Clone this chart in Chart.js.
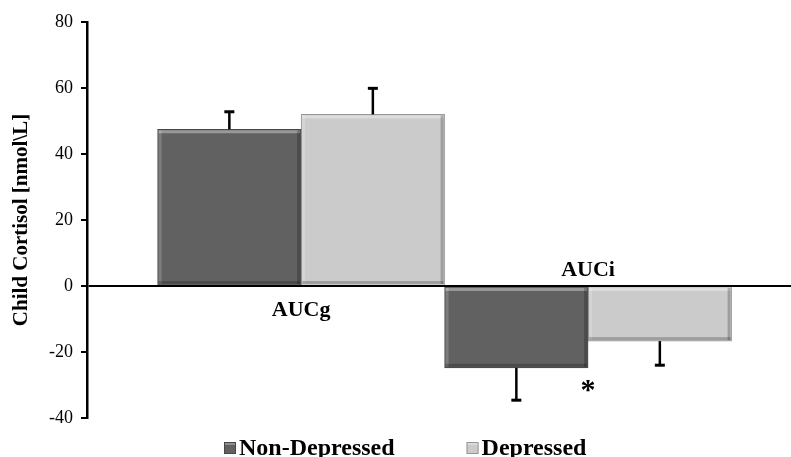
<!DOCTYPE html>
<html>
<head>
<meta charset="utf-8">
<script src="https://cdn.jsdelivr.net/npm/chart.js@4.4.1/dist/chart.umd.min.js"></script>
<style>
  html, body { margin: 0; padding: 0; background: #fff; }
  #wrap { width: 791px; height: 457px; position: relative; }
</style>
</head>
<body>
<div id="wrap"><canvas id="myChart"></canvas></div>
<script>
// values
var categories = ['AUCg', 'AUCi'];
var seriesNames = ['Non-Depressed', 'Depressed'];
var nonDepressed = [47.5, -24.8];
var depressed = [52.0, -16.7];
var nonDepressedErr = [5.3, 9.8];
var depressedErr = [7.9, 7.3];
var yTicks = [-40, -20, 0, 20, 40, 60, 80];
var significance = ['', '*'];

var serif = '"Liberation Serif", "Times New Roman", serif';

function points(values) {
    return values.map(function (v, i) { return { x: i, y: v }; });
}

// bevel look of the bars, drawn on the bar elements the library laid out
var bevelPlugin = {
    id: 'bevel',
    afterDatasetsDraw: function (chart) {
        var ctx = chart.ctx;
        chart.data.datasets.forEach(function (ds, d) {
            chart.getDatasetMeta(d).data.forEach(function (bar) {
                var p = bar.getProps(['x', 'y', 'base', 'width'], true);
                var l = p.x - p.width / 2, r = p.x + p.width / 2;
                var t = Math.min(p.y, p.base), b = Math.max(p.y, p.base);
                ctx.save();
                ctx.fillStyle = 'rgba(255,255,255,0.35)';
                ctx.fillRect(l + 1, t + 1, r - l - 2, 3);
                ctx.fillStyle = 'rgba(255,255,255,0.18)';
                ctx.fillRect(l + 1, t + 1, 3, b - t - 2);
                ctx.fillStyle = 'rgba(0,0,0,0.22)';
                ctx.fillRect(l + 1, b - 4, r - l - 2, 3);
                ctx.fillRect(r - 4, t + 1, 3, b - t - 2);
                ctx.restore();
            });
        });
    }
};

// error bars (one sided), category labels at the zero line, asterisk, legend
var annotatePlugin = {
    id: 'annotate',
    afterDraw: function (chart) {
        var ctx = chart.ctx;
        var xs = chart.scales.x, ys = chart.scales.y;
        var errs = [nonDepressedErr, depressedErr];
        ctx.save();
        ctx.strokeStyle = '#000';
        ctx.lineCap = 'butt';
        chart.data.datasets.forEach(function (ds, d) {
            chart.getDatasetMeta(d).data.forEach(function (bar, i) {
                var v = ds.data[i].y;
                var end = v >= 0 ? v + errs[d][i] : v - errs[d][i];
                var x = bar.x;
                var y0 = ys.getPixelForValue(v), y1 = ys.getPixelForValue(end);
                ctx.lineWidth = 2.5;
                ctx.beginPath();
                ctx.moveTo(x, y0);
                ctx.lineTo(x, y1);
                ctx.stroke();
                ctx.lineWidth = 3;
                ctx.beginPath();
                ctx.moveTo(x - 5, y1);
                ctx.lineTo(x + 5, y1);
                ctx.stroke();
            });
        });

        var zero = ys.getPixelForValue(0);
        ctx.fillStyle = '#000';
        ctx.font = 'bold 22px ' + serif;
        ctx.textAlign = 'center';
        ctx.textBaseline = 'alphabetic';
        categories.forEach(function (c, i) {
            var x = xs.getPixelForValue(i);
            var allPositive = nonDepressed[i] >= 0 && depressed[i] >= 0;
            ctx.fillText(c, x, allPositive ? zero + 30 : zero - 10);
        });

        ctx.font = 'bold 30px ' + serif;
        significance.forEach(function (s, i) {
            if (!s) return;
            ctx.fillText(s, xs.getPixelForValue(i), ys.getPixelForValue(-34.3));
        });

        // legend
        var x = 224, y = 442;
        ctx.font = 'bold 24px ' + serif;
        ctx.textAlign = 'left';
        chart.data.datasets.forEach(function (ds) {
            ctx.fillStyle = ds.backgroundColor;
            ctx.fillRect(x, y, 12, 12);
            ctx.strokeStyle = ds.borderColor;
            ctx.lineWidth = 1;
            ctx.strokeRect(x + 0.5, y + 0.5, 11, 11);
            ctx.fillStyle = 'rgba(255,255,255,0.3)';
            ctx.fillRect(x + 1, y + 1, 10, 2);
            ctx.fillStyle = '#000';
            ctx.fillText(ds.label, x + 15, 455);
            x += 15 + ctx.measureText(ds.label).width + 72;
        });
        ctx.restore();
    }
};

var ctx = document.getElementById('myChart').getContext('2d');
var myChart = new Chart(ctx, {
    type: 'bar',
    data: {
        datasets: [{
            label: seriesNames[0],
            data: points(nonDepressed),
            backgroundColor: '#616161',
            borderColor: '#474747',
            borderWidth: 1
        }, {
            label: seriesNames[1],
            data: points(depressed),
            backgroundColor: '#cbcbcb',
            borderColor: '#979797',
            borderWidth: 1
        }]
    },
    options: {
        responsive: true,
        maintainAspectRatio: false,
        animation: false,
        layout: { padding: { top: 22, bottom: 39, left: 0, right: 0 } },
        datasets: { bar: { barPercentage: 1, categoryPercentage: 1 } },
        plugins: {
            legend: { display: false },
            tooltip: { enabled: false }
        },
        scales: {
            x: {
                type: 'linear',
                display: false,
                offset: false,
                min: -0.746,
                max: 1.707,
                afterBuildTicks: function (scale) {
                    scale.ticks = categories.map(function (c, i) { return { value: i }; });
                }
            },
            y: {
                min: -40,
                max: 80,
                z: 1,
                afterBuildTicks: function (scale) {
                    scale.ticks = yTicks.map(function (v) { return { value: v }; });
                },
                afterFit: function (scale) { scale.width = 87; },
                border: { display: true, color: '#000', width: 2.5 },
                grid: {
                    color: function (c) { return c.tick && c.tick.value === 0 ? '#000' : 'rgba(0,0,0,0)'; },
                    lineWidth: 2,
                    drawTicks: true,
                    tickColor: '#000',
                    tickLength: 6,
                    tickWidth: 2
                },
                ticks: {
                    color: '#000',
                    padding: 8,
                    font: { family: serif, size: 18 }
                },
                title: {
                    display: true,
                    text: 'Child Cortisol [nmol\\L]',
                    color: '#000',
                    padding: { top: 9, bottom: 0 },
                    font: { family: serif, size: 21, weight: 'bold' }
                }
            }
        }
    },
    plugins: [bevelPlugin, annotatePlugin]
});
</script>
</body>
</html>
